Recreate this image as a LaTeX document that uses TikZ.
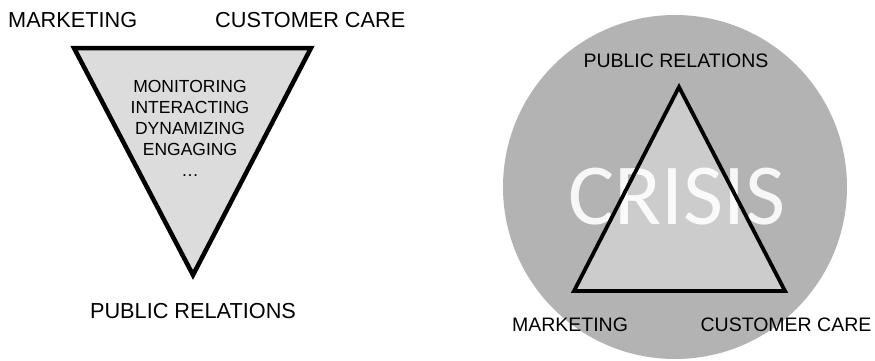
\documentclass[tikz,border=0pt]{standalone}
\usepackage{fontspec}
\setmainfont{Liberation Sans}
\newfontfamily\crisisfont{Carlito}
\definecolor{funnelgray}{RGB}{220,220,220}
\definecolor{circlegray}{RGB}{179,179,179}
\definecolor{trianglegray}{RGB}{204,204,204}
\begin{document}
\begin{tikzpicture}[x=1pt,y=1pt,
		tag/.style={font=\fontsize{21.7}{26}\selectfont,inner sep=0pt},
		smalltag/.style={font=\fontsize{19.5}{23}\selectfont,inner sep=0pt,anchor=base},
		act/.style={font=\fontsize{17.5}{21}\selectfont,inner sep=0pt,anchor=base}]
	\useasboundingbox (0,0) rectangle (875,360);
	% left: the funnel
	\coordinate (mk) at (74,312);
	\coordinate (cc) at (311,312);
	\coordinate (pr) at (193,85);
	\draw[line width=4.5pt,fill=funnelgray] (mk) -- (cc) -- (pr) -- cycle;
	\node[tag,anchor=base west] (mkleft) at (8,333) {MARKETING};
	\node[tag,anchor=base west] (ccleft) at (215,333) {CUSTOMER CARE};
	\node[tag,anchor=base] (prleft) at (193,42) {PUBLIC RELATIONS};
	\foreach \w [count=\i] in {MONITORING,INTERACTING,DYNAMIZING,ENGAGING,\ldots}
		\node[act] (act\i) at (190,289-21*\i) {\w};
	% right: the crisis circle
	\fill[circlegray] (675,173) circle (172pt);
	\coordinate (top) at (679,273);
	\coordinate (left) at (574,69);
	\coordinate (right) at (785,69);
	\fill[trianglegray] (top) -- (left) -- (right) -- cycle;
	\node[anchor=base,text=white,text opacity=.9,inner sep=0pt,
		font=\crisisfont\fontsize{87}{90}\selectfont] (crisis) at (677,136) {CRISIS};
	\draw[line width=3.8pt] (top) -- (left) -- (right) -- cycle;
	\node[smalltag] (prright) at (676,293) {PUBLIC RELATIONS};
	\node[smalltag] (mkright) at (570,29) {MARKETING};
	\node[smalltag] (ccright) at (786,29) {CUSTOMER CARE};
\end{tikzpicture}
\end{document}
